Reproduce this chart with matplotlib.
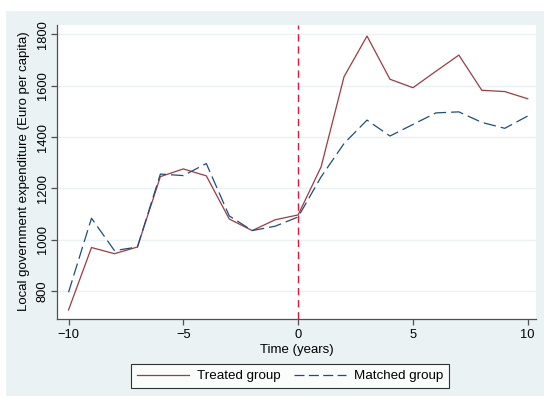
import matplotlib
matplotlib.use("Agg")
import matplotlib.pyplot as plt
from matplotlib.patches import Rectangle

plt.rcParams['font.family'] = ['Liberation Sans', 'DejaVu Sans']

years = list(range(-10, 11))
treated = [727, 970, 946, 972, 1246, 1276, 1249, 1081, 1036, 1078, 1097,
           1284, 1635, 1793, 1625, 1592, 1656, 1719, 1582, 1577, 1549]
matched = [796, 1084, 958, 972, 1256, 1250, 1297, 1093, 1036, 1053, 1089,
           1245, 1375, 1466, 1404, 1449, 1494, 1498, 1457, 1434, 1482]
yticks = [800, 1000, 1200, 1400, 1600, 1800]
xticks = [-10, -5, 0, 5, 10]

bg = '#eaf2f3'
treated_color = '#983d43'
matched_color = '#1f4e79'
event_color = '#d9173f'
axis_color = '#505050'

fig = plt.figure(figsize=(5.44, 3.96), dpi=100)
fig.patches.append(Rectangle((6 / 544, 0), 538 / 544, 1 - 11 / 396,
                             transform=fig.transFigure, facecolor=bg,
                             edgecolor='none', zorder=-5))

ax = fig.add_axes([0.1053, 0.1952, 0.8800, 0.7429])
ax.set_zorder(1)
ax.set_facecolor('white')
ax.set_xlim(-10.49, 10.36)
ax.set_ylim(693, 1838)

ax.grid(axis='y', color=bg, linewidth=1.0)
ax.set_axisbelow(True)

ax.plot(years, treated, color=treated_color, lw=0.9, label='Treated group',
        zorder=3)
ax.plot(years, matched, color=matched_color, lw=0.9, dashes=(10, 4),
        label='Matched group', zorder=3)
ax.axvline(0, color=event_color, lw=1.0, dashes=(5.3, 3.4), zorder=4)

for side in ('top', 'right'):
    ax.spines[side].set_visible(False)
for side in ('left', 'bottom'):
    ax.spines[side].set_color(axis_color)
    ax.spines[side].set_linewidth(0.9)

ax.set_xticks(xticks)
ax.set_yticks(yticks)
ax.set_yticklabels([str(v) for v in yticks], rotation=90, va='center')
ax.tick_params(axis='both', colors=axis_color, labelcolor='black',
               labelsize=9.3, length=4, width=0.9, direction='out')
ax.tick_params(axis='y', pad=2)

ax.set_xlabel('Time (years)', fontsize=9.5, labelpad=2)
ax.set_ylabel('Local government expenditure (Euro per capita)', fontsize=9.5,
              labelpad=5)

leg = fig.legend(loc='center', bbox_to_anchor=(0.533, 0.0505), ncol=2,
                 fontsize=9.6, frameon=True, fancybox=False, handlelength=3.9,
                 columnspacing=1.0, handletextpad=0.6, borderpad=0.45)
leg.get_frame().set_edgecolor('black')
leg.get_frame().set_linewidth(0.8)
leg.get_frame().set_facecolor('white')
leg.get_lines()[1].set_dashes((8, 3.5))

fig.savefig('out.png', dpi=100, facecolor='white')
